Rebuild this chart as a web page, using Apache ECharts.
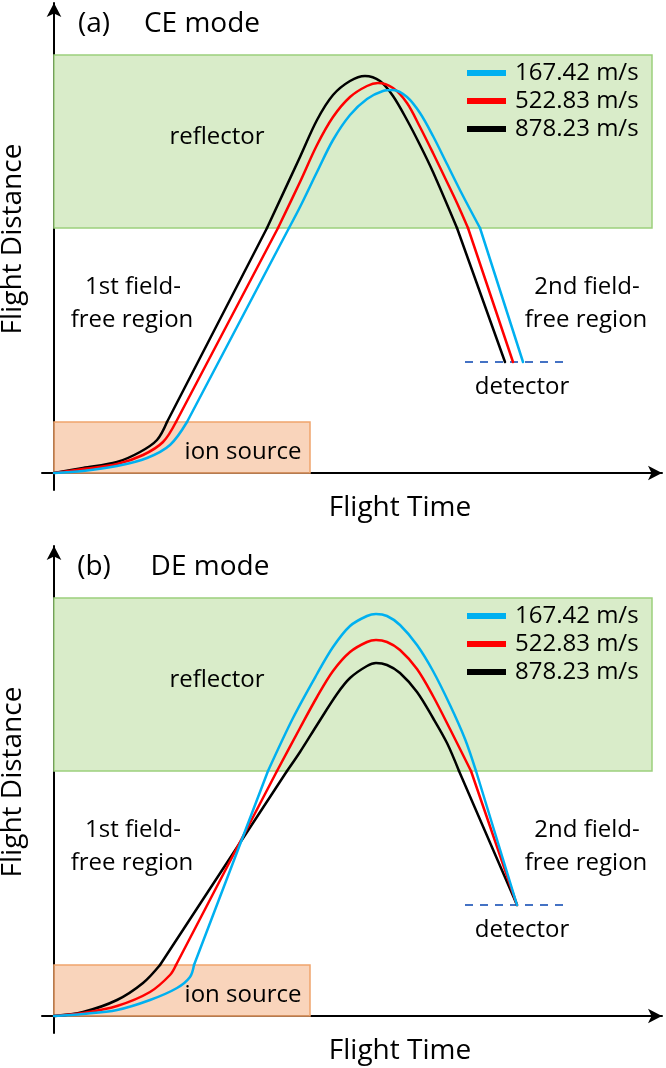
<!DOCTYPE html>
<html>
<head>
<meta charset="utf-8">
<script src="https://cdn.jsdelivr.net/npm/echarts@6/dist/echarts.min.js"></script>
<style>
html, body { margin: 0; padding: 0; background: #fff; }
#chart { width: 666px; height: 1068px; }
</style>
</head>
<body>
<div id="chart"></div>
<script>
// speeds shown in the legend
const speeds = ['167.42 m/s', '522.83 m/s', '878.23 m/s'];
const speedColors = ['#00b0f0', '#ff0000', '#000000'];

// regions (same arbitrary units as the axes)
const reflector = [245, 418];     // distance range
const reflectorEnd = 598;         // time extent
const ionSource = [256, 51];      // time extent, distance top
const detectorY = 111;
const detectorX = [411, 509];

// (a) CE mode trajectories [flight time, flight distance]
const ceBlue = [[0,0],[29,2],[63,7],[93,15],[116,28],[133,51],[235,245],[246,266],[263,301],[279,333],[296,358],[313,374],[329,382],[339,383],[353,376],[366,360],[379,337],[393,309],[408,279],[426,245],[469,111]];
const ceRed = [[0,0],[29,4],[63,9],[89,18],[109,31],[122,51],[224,245],[246,291],[263,328],[279,356],[296,376],[313,387],[324,390],[339,385],[353,370],[366,346],[379,320],[393,291],[403,270],[414,245],[459,111]];
const ceBlack = [[0,0],[29,5],[63,11],[86,21],[103,33],[113,51],[213,245],[246,316],[263,353],[279,378],[296,392],[311,397],[326,392],[339,377],[353,353],[366,328],[379,301],[403,245],[451,111]];

// (b) DE mode trajectories
const deBlue = [[0,0],[29,2],[63,6],[96,16],[123,28],[136,39],[140,51],[214,245],[239,298],[263,342],[279,369],[296,390],[313,400],[322,402],[333,400],[346,391],[363,371],[379,345],[396,311],[411,277],[422,245],[463,111]];
const deRed = [[0,0],[29,3],[63,10],[96,24],[116,41],[122,51],[223,245],[246,288],[263,319],[279,345],[296,364],[313,374],[322,376],[333,374],[346,366],[363,347],[379,320],[396,287],[417,245],[463,111]];
const deBlack = [[0,0],[29,4],[63,16],[89,33],[106,51],[233,245],[246,264],[263,291],[283,322],[296,338],[313,350],[322,353],[333,351],[346,343],[363,324],[379,298],[393,273],[405,245],[463,111]];

const FONT = '"Open Sans", "Noto Sans", sans-serif';
const PANEL_B = 543;

function txt(x, y, s, size, extra) {
    return Object.assign({
        type: 'text', x: x, y: y, z: 100, silent: true,
        style: { text: s, fill: '#000', font: size + 'px ' + FONT, textAlign: 'center', textVerticalAlign: 'middle' }
    }, extra || {});
}

function panelTexts(off, tag, mode, modeX) {
    return [
        txt(94, 24 + off, tag, 28),
        txt(modeX, 24 + off, mode, 28),
        txt(217, 137 + off, 'reflector', 24),
        txt(133, 287 + off, '1st field-', 24),
        txt(132, 320 + off, 'free region', 24),
        txt(587, 287 + off, '2nd field-', 24),
        txt(586, 320 + off, 'free region', 24),
        txt(243, 452 + off, 'ion source', 24),
        txt(522, 387 + off, 'detector', 24),
        txt(400, 508 + off, 'Flight Time', 28),
        txt(13, 239 + off, 'Flight Distance', 28, { rotation: Math.PI / 2 })
    ];
}

function axisPair(idx) {
    const line = {
        onZero: true,
        symbol: ['none', 'arrow'],
        symbolSize: [11, 14],
        lineStyle: { color: '#000', width: 2 }
    };
    const hide = { axisTick: { show: false }, axisLabel: { show: false }, splitLine: { show: false } };
    return {
        x: Object.assign({ type: 'value', gridIndex: idx, min: -12, max: 608, axisLine: line }, hide),
        y: Object.assign({ type: 'value', gridIndex: idx, min: -17, max: 470, axisLine: line }, hide)
    };
}

function regionSeries(idx, ionOnTop) {
    const green = {
        type: 'line', xAxisIndex: idx, yAxisIndex: idx, data: [], silent: true, z: 0,
        markArea: {
            silent: true,
            itemStyle: { color: '#d9ecc9', borderColor: '#9cd07c', borderWidth: 1.5 },
            data: [[{ coord: [0, reflector[0]] }, { coord: [reflectorEnd, reflector[1]] }]]
        }
    };
    const ion = {
        type: 'line', xAxisIndex: idx, yAxisIndex: idx, data: [], silent: true, z: ionOnTop ? 10 : 0,
        markArea: {
            silent: true,
            itemStyle: { color: 'rgba(244,176,132,0.55)', borderColor: '#f0a46c', borderWidth: 1.5 },
            data: [[{ coord: [0, 0] }, { coord: [ionSource[0], ionSource[1]] }]]
        }
    };
    const det = {
        type: 'line', xAxisIndex: idx, yAxisIndex: idx, silent: true, z: 1,
        showSymbol: false,
        data: [[detectorX[0], detectorY], [detectorX[1], detectorY]],
        lineStyle: { color: '#4472c4', width: 2, type: [8, 7] }
    };
    return [green, ion, det];
}

// cut a trajectory where it crosses a region boundary so each piece keeps its own shape
function splitAtBoundaries(data) {
    const levels = [ionSource[1], reflector[0]];
    const segs = [];
    let cur = [];
    data.forEach((p, i) => {
        cur.push(p);
        if (i > 0 && i < data.length - 1 && levels.indexOf(p[1]) >= 0) {
            segs.push(cur);
            cur = [p];
        }
    });
    segs.push(cur);
    return segs;
}

function curveSeries(idx, sets) {
    const out = [];
    sets.forEach((d, i) => {
        splitAtBoundaries(d).forEach(seg => {
            out.push({
                name: speeds[i],
                type: 'line',
                xAxisIndex: idx, yAxisIndex: idx,
                data: seg,
                smooth: seg.length > 2 ? 0.33 : false,
                showSymbol: false,
                silent: true,
                z: 5 - i,
                color: speedColors[i],
                lineStyle: { width: 2.5, color: speedColors[i], cap: 'round', join: 'round' }
            });
        });
    });
    return out;
}

function legendAt(top) {
    return {
        orient: 'vertical', left: 467, top: top, padding: 0,
        icon: 'rect', itemWidth: 39, itemHeight: 6, itemGap: 4,
        selectedMode: false,
        data: speeds,
        textStyle: { fontFamily: FONT, fontSize: 24, lineHeight: 24, color: '#000', padding: [0, 0, 0, 4] }
    };
}

const a = axisPair(0), b = axisPair(1);

const option = {
    animation: false,
    backgroundColor: '#fff',
    grid: [
        { left: 42, top: 3, width: 620, height: 487 },
        { left: 42, top: 3 + PANEL_B, width: 620, height: 487 }
    ],
    xAxis: [a.x, b.x],
    yAxis: [a.y, b.y],
    legend: [legendAt(61), legendAt(61 + PANEL_B)],
    graphic: panelTexts(0, '(a)', 'CE mode', 202).concat(panelTexts(PANEL_B, '(b)', 'DE mode', 210)),
    series: [].concat(
        regionSeries(0, false),
        curveSeries(0, [ceBlue, ceRed, ceBlack]),
        regionSeries(1, true),
        curveSeries(1, [deBlue, deRed, deBlack])
    )
};

const myChart = echarts.init(document.getElementById('chart'));
myChart.setOption(option);
</script>
</body>
</html>
